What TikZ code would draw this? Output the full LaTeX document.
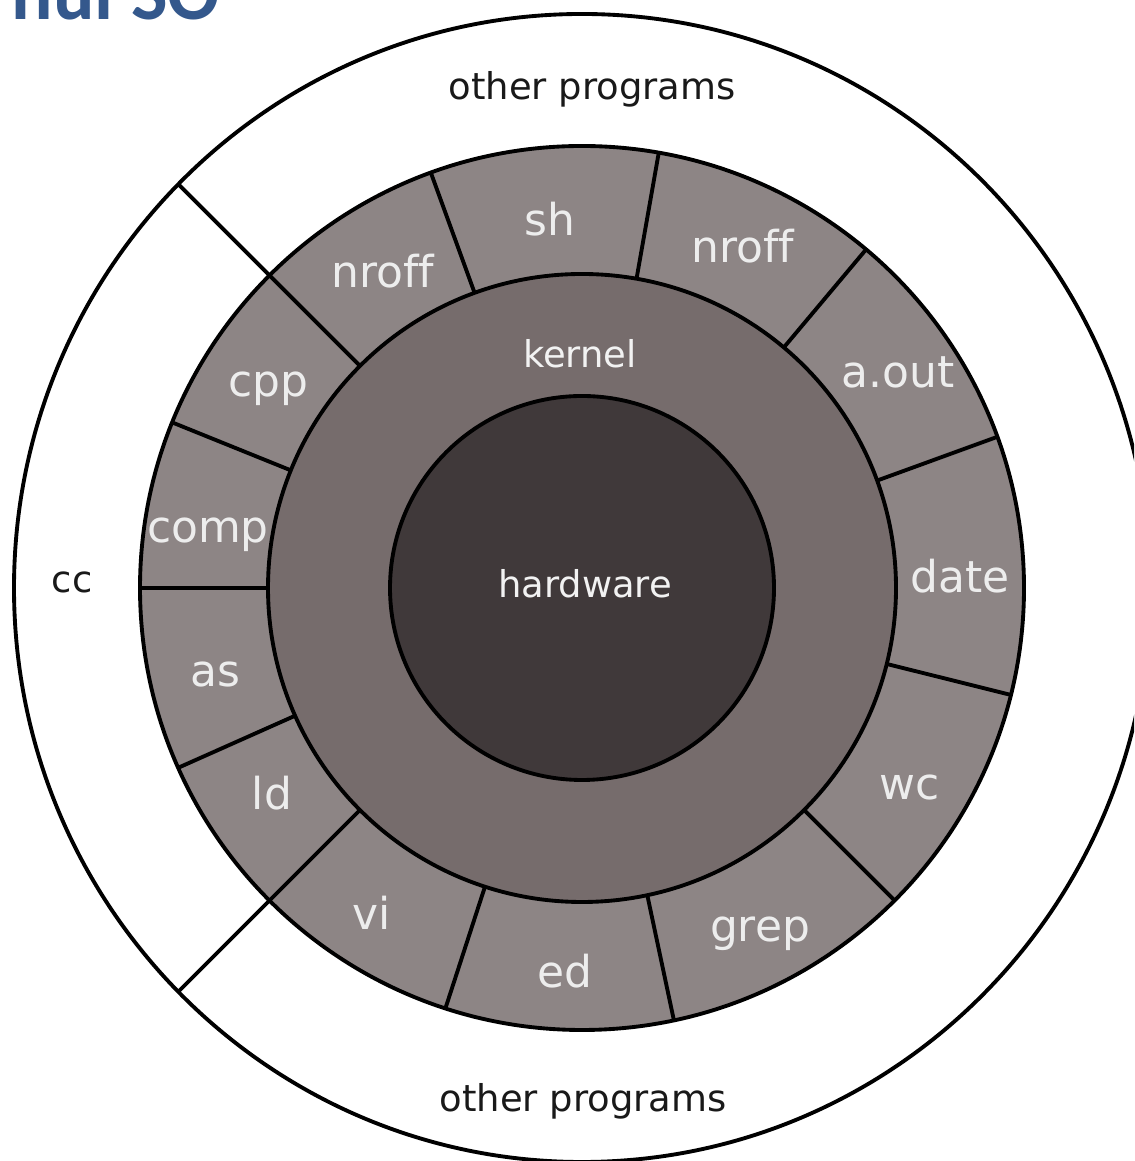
\documentclass[tikz,border=0pt]{standalone}
\usepackage{fontspec}
\setmainfont[Ligatures=NoCommon]{DejaVu Sans}
\newfontfamily\titlefont{Carlito}
\usepackage{tikz}
\usetikzlibrary{positioning}

\definecolor{hwgrey}{RGB}{64,57,58}
\definecolor{kngrey}{RGB}{118,108,108}
\definecolor{pggrey}{RGB}{141,133,133}
\definecolor{titleblue}{RGB}{52,88,140}

\tikzset{
    prog/.style={anchor=base, inner sep=0pt, text=white!93!black, font=\fontsize{12.5}{15}\selectfont},
    inner/.style={anchor=base, inner sep=0pt, text=white!95!black, font=\fontsize{10.5}{13}\selectfont},
    outer/.style={anchor=base, inner sep=0pt, text=black!90, font=\fontsize{10.5}{13}\selectfont}
}

\begin{document}
\begin{tikzpicture}[line width=1.1pt]
                \clip (0,0) rectangle (11.34,11.61);

                % slide title, cut at the top edge
                \node[anchor=base east, inner sep=0pt, text=titleblue,
                      font=\titlefont\bfseries\fontsize{22}{24}\selectfont] (title) at (2.22,11.41) {nul SO};

                % rings round the centre
                \begin{scope}[shift={(5.82,5.73)}]
                \draw[fill=white] (0,0) ellipse [x radius=5.68, y radius=5.74];
                \draw (135:4.42) -- (135:5.71);
                \draw (225:4.42) -- (225:5.71);

                \draw[fill=pggrey] (0,0) circle (4.42);
                \draw (135:3.14) -- (135:4.42);
                \draw (110:3.14) -- (110:4.42);
                \draw (80:3.14) -- (80:4.42);
                \draw (50:3.14) -- (50:4.42);
                \draw (20:3.14) -- (20:4.42);
                \draw (-14:3.14) -- (-14:4.42);
                \draw (-45:3.14) -- (-45:4.42);
                \draw (-78:3.14) -- (-78:4.42);
                \draw (-108:3.14) -- (-108:4.42);
                \draw (225:3.14) -- (225:4.42);
                \draw (204:3.14) -- (204:4.42);
                \draw (180:3.14) -- (180:4.42);
                \draw (158:3.14) -- (158:4.42);

                \draw[fill=kngrey] (0,0) circle (3.14);
                \draw[fill=hwgrey] (0,0) circle (1.92);
                \end{scope}

                \node[inner] (hardware) at (5.85,5.63) {hardware};
                \node[inner] (kernel) at (5.80,7.93) {kernel};

                \node[prog] (nroffl) at (3.83,8.73) {nroff};
                \node[prog] (sh) at (5.50,9.25) {sh};
                \node[prog] (nroffr) at (7.43,8.98) {nroff};
                \node[prog] (aout) at (8.98,7.73) {a.out};
                \node[prog] (date) at (9.60,5.68) {date};
                \node[prog] (wc) at (9.10,3.61) {wc};
                \node[prog] (grep) at (7.60,2.19) {grep};
                \node[prog] (ed) at (5.65,1.73) {ed};
                \node[prog] (vi) at (3.72,2.31) {vi};
                \node[prog] (ld) at (2.72,3.51) {ld};
                \node[prog] (as) at (2.15,4.74) {as};
                \node[prog] (comp) at (2.08,6.18) {comp};
                \node[prog] (cpp) at (2.68,7.64) {cpp};

                \node[outer] (cc) at (0.72,5.68) {cc};
                \node[outer] (othertop) at (5.92,10.61) {other programs};
                \node[outer] (otherbot) at (5.83,0.50) {other programs};
\end{tikzpicture}
\end{document}
